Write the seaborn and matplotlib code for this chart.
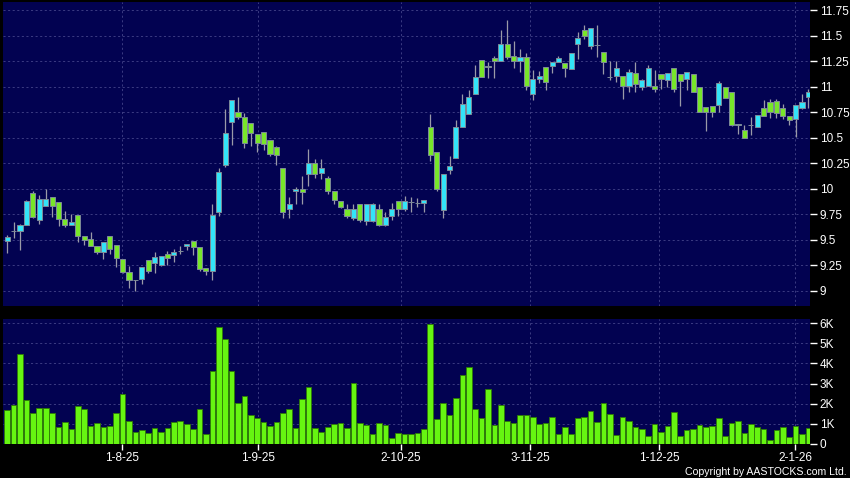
import numpy as np
import pandas as pd
import seaborn as sns
import matplotlib.pyplot as plt

# daily candles (HKD)
open_ = [9.49, 9.59, 9.59, 9.645, 9.96, 9.69, 9.835, 9.92, 9.87, 9.70,
         9.645, 9.74, 9.54, 9.51, 9.435, 9.38, 9.535, 9.45, 9.31, 9.18,
         9.10, 9.115, 9.305, 9.27, 9.25, 9.36, 9.35, 9.39, 9.435, 9.49,
         9.43, 9.22, 9.19, 9.77, 10.23, 10.65, 10.75, 10.70, 10.64, 10.54,
         10.56, 10.48, 10.41, 10.20, 9.805, 9.98, 10.0, 10.14, 10.25, 10.15,
         10.10, 9.98, 9.88, 9.805, 9.715, 9.85, 9.685, 9.685, 9.805, 9.64,
         9.735, 9.88, 9.80, 9.87, 9.86, 9.855, 10.60, 10.36, 9.795, 10.18,
         10.30, 10.60, 10.73, 10.925, 11.265, 11.205, 11.28, 11.255, 11.42, 11.30,
         11.255, 11.29, 10.925, 11.08, 11.19, 11.20, 11.24, 11.23, 11.175, 11.42,
         11.555, 11.40, 11.41, 11.335, 11.09, 11.105, 11.10, 11.005, 11.13, 10.995,
         11.005, 11.01, 11.12, 11.065, 11.185, 11.12, 11.08, 11.12, 11.0, 10.80,
         10.815, 10.82, 11.0, 10.945, 10.62, 10.575, 10.62, 10.605, 10.795, 10.845,
         10.855, 10.795, 10.715, 10.68, 10.795, 10.895]
high = [9.55, 9.67, 9.65, 9.89, 9.98, 9.935, 10.0, 9.92, 9.87, 9.78,
        9.75, 9.74, 9.54, 9.58, 9.435, 9.48, 9.535, 9.45, 9.31, 9.245,
        9.10, 9.235, 9.305, 9.375, 9.34, 9.39, 9.41, 9.44, 9.46, 9.49,
        9.43, 9.22, 9.85, 10.20, 10.78, 10.87, 10.90, 10.745, 10.64, 10.54,
        10.56, 10.48, 10.42, 10.20, 9.92, 10.02, 10.12, 10.39, 10.29, 10.29,
        10.12, 9.98, 9.88, 9.85, 9.85, 9.85, 9.845, 9.855, 9.85, 9.77,
        9.86, 9.88, 9.93, 9.915, 9.905, 9.89, 10.73, 10.36, 10.14, 10.32,
        10.675, 10.93, 10.965, 11.21, 11.265, 11.24, 11.305, 11.56, 11.65, 11.45,
        11.37, 11.33, 11.16, 11.15, 11.19, 11.24, 11.30, 11.23, 11.33, 11.54,
        11.60, 11.575, 11.605, 11.335, 11.255, 11.255, 11.10, 11.17, 11.245, 11.08,
        11.21, 11.165, 11.12, 11.13, 11.185, 11.12, 11.145, 11.12, 11.0, 10.80,
        10.815, 11.055, 11.0, 10.945, 10.635, 10.625, 10.70, 10.725, 10.87, 10.875,
        10.875, 10.835, 10.715, 10.825, 10.93, 10.975]
low = [9.37, 9.52, 9.40, 9.64, 9.71, 9.655, 9.83, 9.72, 9.63, 9.62,
       9.64, 9.48, 9.445, 9.44, 9.355, 9.31, 9.355, 9.235, 9.17, 9.03,
       9.00, 9.07, 9.17, 9.17, 9.245, 9.25, 9.28, 9.355, 9.395, 9.35,
       9.195, 9.15, 9.10, 9.73, 10.215, 10.425, 10.68, 10.40, 10.42, 10.36,
       10.375, 10.32, 10.23, 9.715, 9.715, 9.85, 9.85, 10.03, 10.10, 10.095,
       9.95, 9.85, 9.81, 9.715, 9.69, 9.675, 9.645, 9.675, 9.63, 9.63,
       9.69, 9.735, 9.78, 9.775, 9.82, 9.77, 10.27, 9.98, 9.71, 10.14,
       10.30, 10.60, 10.73, 10.925, 11.09, 11.085, 11.085, 11.255, 11.27, 11.185,
       11.145, 10.97, 10.865, 11.035, 10.97, 11.135, 11.24, 11.095, 11.175, 11.27,
       11.47, 11.37, 11.29, 11.12, 11.065, 11.05, 10.875, 10.95, 10.95, 10.97,
       11.005, 10.95, 10.975, 11.0, 10.95, 10.81, 10.965, 10.945, 10.755, 10.57,
       10.70, 10.755, 10.885, 10.615, 10.535, 10.495, 10.525, 10.60, 10.715, 10.69,
       10.69, 10.68, 10.625, 10.51, 10.78, 10.79]
close = [9.525, 9.59, 9.64, 9.88, 9.72, 9.90, 9.90, 9.83, 9.70, 9.645,
         9.67, 9.535, 9.50, 9.44, 9.38, 9.48, 9.41, 9.32, 9.18, 9.10,
         9.10, 9.235, 9.19, 9.33, 9.34, 9.32, 9.38, 9.39, 9.455, 9.43,
         9.21, 9.19, 9.74, 10.16, 10.55, 10.87, 10.70, 10.45, 10.55, 10.45,
         10.44, 10.34, 10.33, 9.77, 9.85, 10.0, 9.965, 10.25, 10.14, 10.20,
         9.975, 9.885, 9.82, 9.735, 9.805, 9.69, 9.845, 9.845, 9.64, 9.725,
         9.80, 9.80, 9.88, 9.87, 9.86, 9.89, 10.33, 10.0, 10.14, 10.225,
         10.60, 10.835, 10.895, 11.095, 11.09, 11.19, 11.255, 11.42, 11.295, 11.25,
         11.29, 11.005, 11.08, 11.10, 11.045, 11.24, 11.28, 11.185, 11.33, 11.48,
         11.495, 11.575, 11.41, 11.245, 11.09, 11.18, 11.005, 11.14, 11.03, 11.07,
         11.18, 10.975, 11.08, 11.13, 10.98, 11.06, 11.14, 10.945, 10.755, 10.75,
         10.755, 11.04, 10.885, 10.625, 10.635, 10.495, 10.62, 10.725, 10.715, 10.75,
         10.745, 10.715, 10.675, 10.825, 10.845, 10.95]
# volume in thousands of shares
volume_k = [1.67, 1.92, 4.47, 2.2, 1.53, 1.8, 1.78, 1.53, 0.83, 1.07,
            0.73, 1.87, 1.73, 0.88, 1.02, 0.83, 0.87, 1.55, 2.47, 1.12,
            0.6, 0.7, 0.57, 0.78, 0.6, 0.78, 1.07, 1.15, 0.98, 0.73,
            1.72, 0.5, 3.63, 5.8, 5.23, 3.63, 2.03, 2.38, 1.45, 1.28,
            1.1, 0.87, 1.07, 1.52, 1.75, 0.78, 2.25, 2.83, 0.8, 0.58,
            0.85, 0.97, 1.02, 0.78, 3.05, 1.02, 0.95, 0.5, 1.02, 0.92,
            0.32, 0.57, 0.48, 0.5, 0.53, 0.72, 5.93, 1.25, 2.05, 1.45,
            2.27, 3.42, 3.83, 1.72, 1.27, 2.72, 0.95, 1.95, 1.12, 1.03,
            1.42, 1.43, 1.35, 0.97, 1.02, 1.32, 0.5, 0.82, 0.48, 1.3,
            1.33, 1.62, 1.07, 2.03, 1.5, 0.43, 1.32, 1.12, 0.83, 0.72,
            0.4, 0.98, 0.58, 0.87, 1.6, 0.42, 0.67, 0.75, 0.92, 0.85,
            0.87, 1.28, 0.4, 1.02, 1.12, 0.57, 1.0, 0.85, 0.75, 0.22,
            0.67, 0.82, 0.35, 0.87, 0.52, 0.77]

date_labels = ["1-8-25", "1-9-25", "2-10-25", "3-11-25", "1-12-25", "2-1-26"]
date_pos = [17.9, 39.1, 61.4, 81.6, 101.7, 122.9]   # bar index of each label
price_ticks = [9, 9.25, 9.5, 9.75, 10, 10.25, 10.5, 10.75, 11, 11.25, 11.5, 11.75]
vol_ticks = [0, 1, 2, 3, 4, 5, 6]
vol_labels = ["0", "1K", "2K", "3K", "4K", "5K", "6K"]

NAVY = "#020251"
UP = "#33e4f8"
DOWN = "#78e62a"
FLAT = "#9a9aaa"
VOL = "#66f511"
GRID = "#44448a"

df = pd.DataFrame({"open": open_, "high": high, "low": low,
                   "close": close, "vol": volume_k})
df["idx"] = np.arange(len(df))
df["bottom"] = df[["open", "close"]].min(axis=1)
df["body"] = (df["close"] - df["open"]).abs()
df["color"] = np.where(df["close"] > df["open"], UP,
                       np.where(df["close"] < df["open"], DOWN, FLAT))

sns.set_style("dark")
plt.rcParams["font.family"] = ["Liberation Sans", "DejaVu Sans"]

fig = plt.figure(figsize=(8.5, 4.78), dpi=100, facecolor="black")
axp = fig.add_axes([3 / 850, 172 / 478, 807 / 850, 304 / 478])
axv = fig.add_axes([3 / 850, 34 / 478, 807 / 850, 125 / 478])

xlim = (-0.66, 125.24)

# price panel
axp.vlines(df["idx"], df["low"], df["high"], color="#9a9aa8", lw=0.9, zorder=2)
axp.bar(df["idx"], df["body"], bottom=df["bottom"], width=0.8,
        color=df["color"], edgecolor="#7d8a98", linewidth=0.7, zorder=3)
axp.set_ylim(8.85, 11.83)
axp.set_yticks(price_ticks)
axp.set_yticklabels([f"{t:g}" for t in price_ticks])
axp.set_xticks(date_pos)
axp.tick_params(axis="x", bottom=False, labelbottom=False)

# volume panel
sns.barplot(x=df["idx"], y=df["vol"], ax=axv, color=VOL, saturation=1,
            width=0.88, edgecolor="#2f7a05", linewidth=0.6, errorbar=None,
            zorder=3)
axv.set_ylim(0, 6.2)
axv.set_yticks(vol_ticks)
axv.set_yticklabels(vol_labels)
axv.set_xticks(date_pos)
axv.set_xticklabels(date_labels)
axv.set_xlabel("")
axv.set_ylabel("")

for ax in (axp, axv):
    ax.set_facecolor(NAVY)
    ax.set_xlim(*xlim)
    for s in ax.spines.values():
        s.set_visible(False)
    ax.grid(True, color=GRID, linestyle=(0, (2.5, 3)), linewidth=0.6, zorder=0)
    ax.set_axisbelow(True)
    ax.yaxis.tick_right()
    ax.tick_params(axis="y", right=True, left=False, labelright=True,
                   labelleft=False, colors="white", length=5, width=1,
                   pad=2, labelsize=8.5)

axv.tick_params(axis="x", bottom=True, colors="white", length=4, width=1,
                pad=2, labelsize=8.5)

fig.text(847 / 850, 1 - 472 / 478, "Copyright by AASTOCKS.com Ltd.",
         ha="right", va="center", color="white", fontsize=7.6)

fig.savefig("out.png", dpi=100, facecolor="black")
